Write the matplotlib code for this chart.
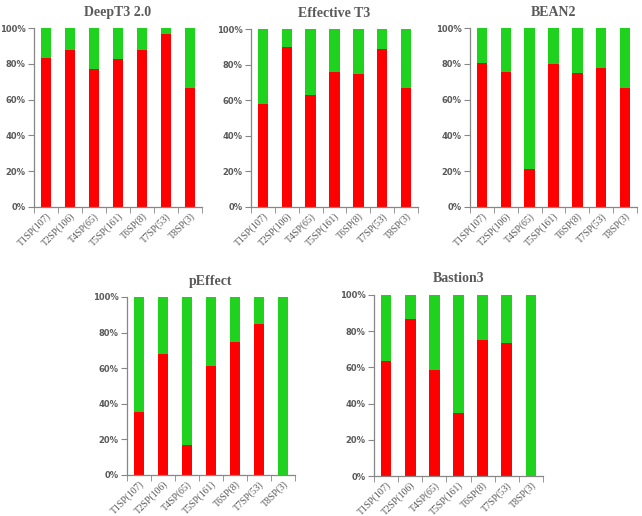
import matplotlib
matplotlib.use("Agg")
import matplotlib.pyplot as plt
import numpy as np

categories = ["T1SP(107)", "T2SP(106)", "T4SP(65)", "T5SP(161)",
              "T6SP(8)", "T7SP(53)", "T8SP(3)"]

# percentage of red (lower) segment; green fills up to 100%
deept3 = [83.3, 87.9, 77.0, 82.6, 87.6, 96.4, 66.7]
effective_t3 = [57.8, 90.1, 63.2, 75.9, 75.0, 88.7, 66.7]
bean2 = [80.6, 75.5, 21.5, 79.8, 75.0, 77.4, 66.7]
peffect = [35.4, 67.9, 16.9, 61.5, 75.0, 85.0, 0.0]
bastion3 = [63.3, 86.7, 58.4, 34.6, 75.0, 73.6, 0.0]

RED = "#ff0000"
GREEN = "#1ed21e"
TEXT = "#595959"
AXIS = "#868686"

W, H = 642, 516


def px_axes(fig, left, right, top, bottom):
    return fig.add_axes([left / W, (H - bottom) / H, (right - left) / W, (bottom - top) / H])


def plot_panel(ax, values, title):
    x = np.arange(len(categories))
    red = np.array(values)
    green = 100 - red
    ax.bar(x, red, width=0.44, color=RED, linewidth=0)
    ax.bar(x, green, width=0.44, bottom=red, color=GREEN, linewidth=0)

    ax.set_xlim(-0.5, len(categories) - 0.5)
    ax.set_ylim(0, 100)
    ax.set_yticks(np.arange(0, 101, 20))
    ax.set_yticklabels([f"{v}%" for v in range(0, 101, 20)],
                       fontsize=6, fontweight="bold", color=TEXT,
                       family="DejaVu Sans")
    ax.set_xticks(x)
    ax.set_xticklabels(categories, rotation=45, ha="right",
                       rotation_mode="anchor", fontsize=7, color=TEXT,
                       family="Liberation Serif")
    ax.set_xticks(np.arange(-0.5, len(categories)), minor=True)
    ax.tick_params(axis="x", which="major", length=0, pad=3)
    ax.tick_params(axis="x", which="minor", length=4, color=AXIS, direction="out")
    ax.tick_params(axis="y", length=4, color=AXIS, width=0.8, pad=2)

    for side in ("top", "right"):
        ax.spines[side].set_visible(False)
    for side in ("left", "bottom"):
        ax.spines[side].set_color(AXIS)
        ax.spines[side].set_linewidth(0.9)

    ax.set_title(title, fontsize=10, fontweight="bold", color=TEXT,
                 family="Liberation Serif", pad=9)


fig = plt.figure(figsize=(W / 100, H / 100), dpi=100)

plot_panel(px_axes(fig, 34, 202, 28, 207), deept3, "DeepT3 2.0")
plot_panel(px_axes(fig, 251, 418, 29, 207), effective_t3, "Effective T3")
plot_panel(px_axes(fig, 470, 637, 28, 207), bean2, "BEAN2")
plot_panel(px_axes(fig, 127, 295, 297, 475), peffect, "pEffect")
plot_panel(px_axes(fig, 374, 543, 295, 476), bastion3, "Bastion3")

fig.savefig("out.png", dpi=100, facecolor="white")
